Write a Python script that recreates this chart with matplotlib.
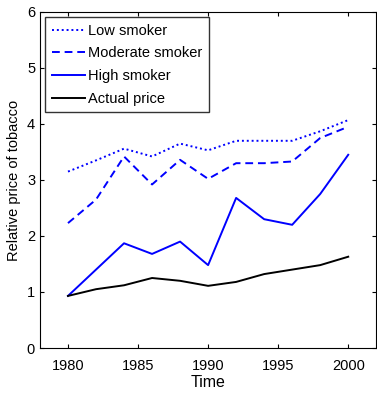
import matplotlib.pyplot as plt

plt.rcParams['font.family'] = ['Liberation Sans', 'DejaVu Sans']

years = [1980, 1982, 1984, 1986, 1988, 1990, 1992, 1994, 1996, 1998, 2000]
low = [3.15, 3.35, 3.56, 3.42, 3.65, 3.53, 3.70, 3.70, 3.70, 3.87, 4.07]
moderate = [2.23, 2.65, 3.42, 2.92, 3.36, 3.02, 3.30, 3.30, 3.33, 3.75, 3.95]
high = [0.93, 1.40, 1.87, 1.68, 1.90, 1.48, 2.68, 2.30, 2.20, 2.75, 3.45]
actual = [0.93, 1.05, 1.12, 1.25, 1.20, 1.11, 1.18, 1.32, 1.40, 1.48, 1.63]

fig = plt.figure(figsize=(3.77, 3.93), dpi=100)
ax = fig.add_axes([0.106, 0.1145, 0.892, 0.855])

ax.plot(years, low, color='#0000ff', linestyle=(0, (1, 1.5)), lw=1.4, label='Low smoker')
ax.plot(years, moderate, color='#0000ff', linestyle=(0, (4, 2.5)), lw=1.4, label='Moderate smoker')
ax.plot(years, high, color='#0000ff', lw=1.4, label='High smoker')
ax.plot(years, actual, color='black', lw=1.4, label='Actual price')

ax.set_xlim(1978, 2002)
ax.set_ylim(0, 6)
ax.set_xticks([1980, 1985, 1990, 1995, 2000])
ax.set_yticks(range(7))
ax.tick_params(direction='in', top=True, right=True, labelsize=10.5, length=3)
ax.tick_params(axis='x', pad=8)
ax.set_xlabel('Time', fontsize=11.5, labelpad=1)
ax.set_ylabel('Relative price of tobacco', fontsize=10.5, labelpad=4)

leg = ax.legend(loc='upper left', fontsize=10.5, frameon=True, fancybox=False,
                edgecolor='black', handlelength=2.3, handletextpad=0.2,
                borderaxespad=0.35, labelspacing=0.6, borderpad=0.45)
leg.get_frame().set_linewidth(1.0)

plt.savefig('out.png', dpi=100)
